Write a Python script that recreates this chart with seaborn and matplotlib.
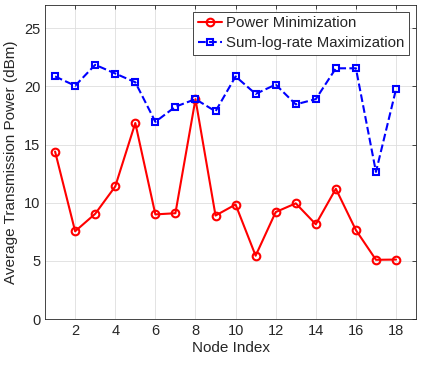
import numpy as np
import pandas as pd
import matplotlib
matplotlib.use('Agg')
import matplotlib.pyplot as plt
import seaborn as sns

# Values
node_index = list(range(1, 19))
power_min = [14.4, 7.55, 9.05, 11.4, 16.85, 9.0, 9.1, 18.9, 8.9, 9.85,
             5.45, 9.2, 9.95, 8.15, 11.2, 7.65, 5.1, 5.12]
sum_log_rate = [20.85, 20.05, 21.85, 21.1, 20.35, 16.95, 18.25, 18.9, 17.85, 20.85,
                19.35, 20.15, 18.45, 18.9, 21.55, 21.55, 12.65, 19.75]
ytick_vals = [0, 5, 10, 15, 20, 25]
xtick_vals = [2, 4, 6, 8, 10, 12, 14, 16, 18]

df = pd.DataFrame({'node': node_index * 2,
                   'power': power_min + sum_log_rate,
                   'scheme': ['Power Minimization'] * 18 + ['Sum-log-rate Maximization'] * 18})

sns.set_style('white')
plt.rcParams['font.family'] = ['Liberation Sans', 'DejaVu Sans']

fig = plt.figure(figsize=(4.25, 3.72), dpi=100)
ax = fig.add_axes([0.106, 0.142, 0.873, 0.845])

# Red solid line with open circles
sns.lineplot(data=df[df.scheme == 'Power Minimization'], x='node', y='power',
             color='red', linewidth=1.5, marker='o', markersize=5.5,
             markerfacecolor='none', markeredgecolor='red', markeredgewidth=1.5,
             label='Power Minimization', ax=ax)
# Blue dashed line with open squares
sns.lineplot(data=df[df.scheme == 'Sum-log-rate Maximization'], x='node', y='power',
             color='blue', linewidth=1.5, linestyle='--', marker='s', markersize=4.5,
             markerfacecolor='none', markeredgecolor='blue', markeredgewidth=1.5,
             label='Sum-log-rate Maximization', ax=ax)

ax.set_xlim(0.5, 19)
ax.set_ylim(0, 27)
ax.set_xticks(xtick_vals)
ax.set_yticks(ytick_vals)
ax.grid(True, color='#dedede', linewidth=0.6)
ax.tick_params(direction='in', length=3, top=True, right=True, labelsize=10.5,
               colors='#262626', width=0.6)
for s in ax.spines.values():
    s.set_color('#262626')
    s.set_linewidth(0.6)

ax.set_xlabel('Node Index', fontsize=11, color='#262626', labelpad=2)
ax.set_ylabel('Average Transmission Power (dBm)', fontsize=11, color='#262626', labelpad=4)

leg = ax.legend(loc='upper right', fontsize=10.8, frameon=True, fancybox=False,
                edgecolor='#262626', framealpha=1, handlelength=1.6,
                borderpad=0.3, labelspacing=0.4, handletextpad=0.3,
                borderaxespad=0.45)
leg.get_frame().set_linewidth(0.6)

fig.savefig('out.png', dpi=100)
